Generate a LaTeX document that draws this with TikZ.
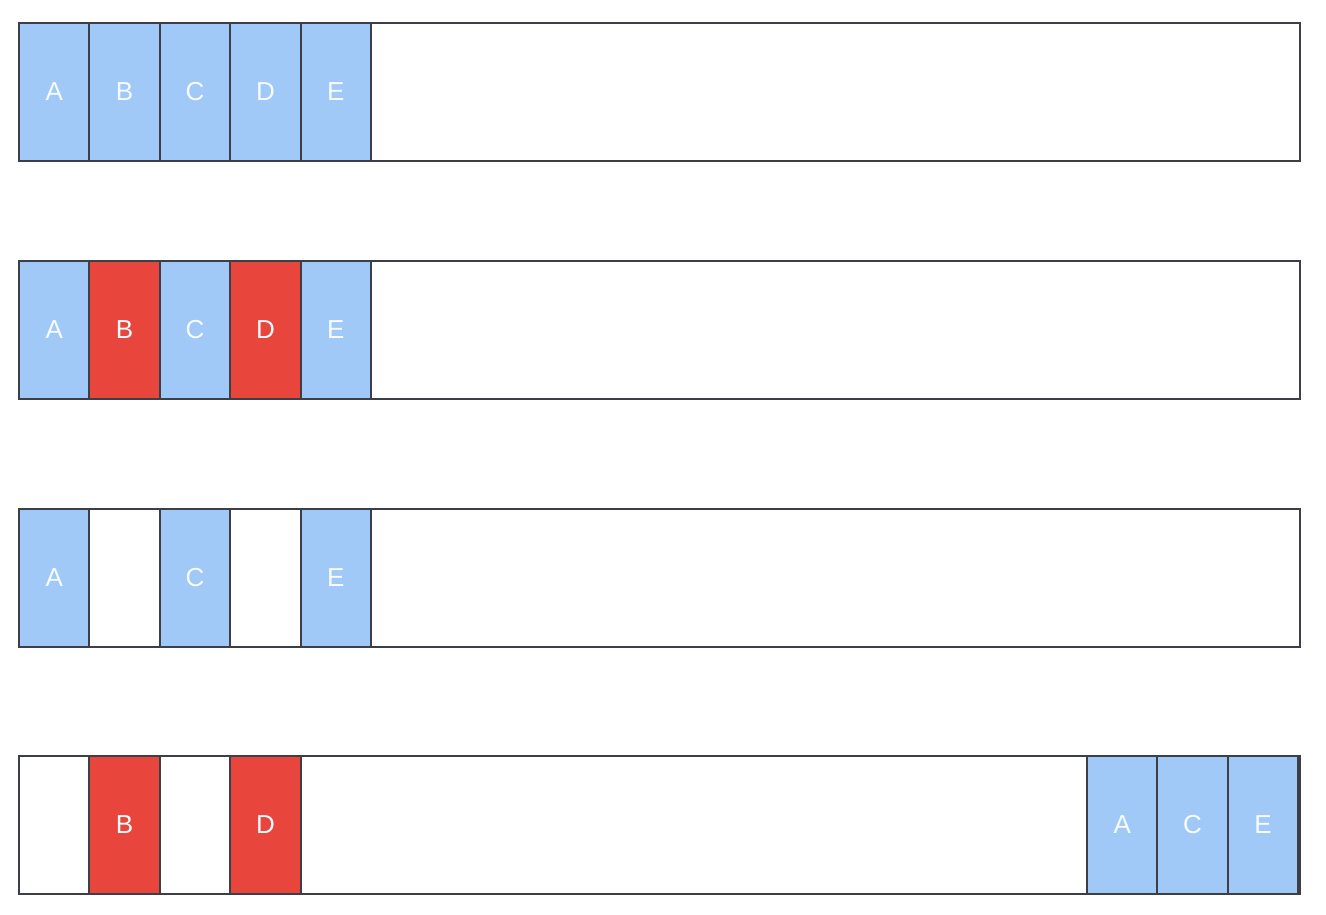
\documentclass[tikz,border=0pt]{standalone}
\usepackage{fontspec}
\setmainfont{Liberation Sans}
\definecolor{cellblue}{RGB}{160,201,247}
\definecolor{cellred}{RGB}{232,69,60}
\definecolor{edge}{RGB}{60,64,70}
\begin{document}
\begin{tikzpicture}[x=1pt,y=-1pt,
  bar/.style={draw=edge,line width=2pt,fill=white,inner sep=0pt,anchor=north west,minimum width=1281pt,minimum height=138pt},
  cell/.style={draw=edge,line width=2pt,inner sep=0pt,anchor=north west,minimum width=70.4pt,minimum height=138pt,text=white!92!cellblue,font=\fontsize{26}{26}\selectfont},
  blue/.style={cell,fill=cellblue},
  red/.style={cell,fill=cellred},
  empty/.style={cell,fill=white}]
\useasboundingbox (0,0) rectangle (1326,914);
% row 1
\node[bar] (bar1) at (18,22) {};
\node[blue] (r1a) at (18,22) {A};
\node[blue] (r1b) at (88.4,22) {B};
\node[blue] (r1c) at (158.8,22) {C};
\node[blue] (r1d) at (229.2,22) {D};
\node[blue] (r1e) at (299.6,22) {E};
% row 2
\node[bar] (bar2) at (18,260) {};
\node[blue] (r2a) at (18,260) {A};
\node[red] (r2b) at (88.4,260) {B};
\node[blue] (r2c) at (158.8,260) {C};
\node[red] (r2d) at (229.2,260) {D};
\node[blue] (r2e) at (299.6,260) {E};
% row 3
\node[bar] (bar3) at (18,508) {};
\node[blue] (r3a) at (18,508) {A};
\node[empty] (r3b) at (88.4,508) {};
\node[blue] (r3c) at (158.8,508) {C};
\node[empty] (r3d) at (229.2,508) {};
\node[blue] (r3e) at (299.6,508) {E};
% row 4
\node[bar] (bar4) at (18,755) {};
\node[empty] (r4a) at (18,755) {};
\node[red] (r4b) at (88.4,755) {B};
\node[empty] (r4c) at (158.8,755) {};
\node[red] (r4d) at (229.2,755) {D};
\node[blue] (r4x) at (1086,755) {A};
\node[blue] (r4y) at (1156.4,755) {C};
\node[blue] (r4z) at (1226.8,755) {E};
\end{tikzpicture}
\end{document}
